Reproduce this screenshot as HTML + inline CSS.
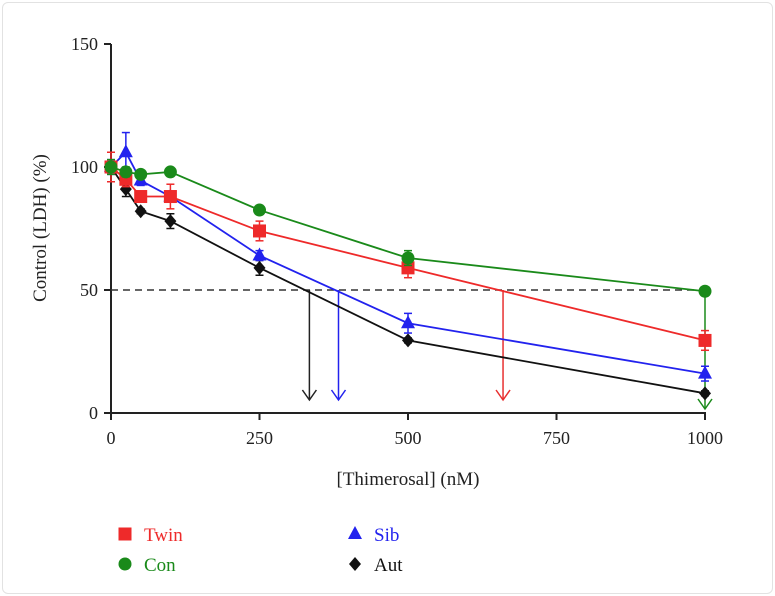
<!DOCTYPE html>
<html><head><meta charset="utf-8"><style>
html,body{margin:0;padding:0;background:#fff;}
#card{position:absolute;left:2px;top:2px;width:769px;height:590px;border:1px solid #e2e2e2;border-radius:6px;background:#fff;}
svg text{font-family:"Liberation Serif",serif;}
</style></head><body>
<div id="card"></div>
<svg id="chart" width="775" height="596" style="position:absolute;left:0;top:0"></svg>
<script>
const doses=[0,25,50,100,250,500,1000];
const twin=[100,95,88,88,74,59,29.5];
const twinErr=[6,3,2,5,4,4,4];
const con=[100,98,97,98,82.5,63,49.5];
const conErr=[3,2,1,1,1,3,1];
const sib=[100,106,94.5,88,64,36.5,16];
const sibErr=[3,8,2,2,2,4,3];
const aut=[100,91,82,78,59,29.5,8];
const autErr=[2,3,1,3,3,1,1];
const xTicks=[0,250,500,750,1000];
const yTicks=[0,50,100,150];
const ic50=[334,383,660,1000];
const ic50Colors=['#222','#2222ee','#e83030','#1a8a1a'];
const X=v=>111+v*0.594, Y=v=>413-v*2.46;
const svg=document.getElementById('chart');const NS='http://www.w3.org/2000/svg';
function mk(t,a,p){const e=document.createElementNS(NS,t);for(const k in a)e.setAttribute(k,a[k]);(p||svg).appendChild(e);return e;}
// axes
let ax=mk('line',{x1:111,y1:Y(150),x2:111,y2:Y(0)+2,stroke:'#222','stroke-width':2});

let bx=mk('line',{x1:108,y1:413,x2:X(1000)+1,y2:413,stroke:'#222','stroke-width':2});

yTicks.forEach(v=>{mk('line',{x1:104,y1:Y(v),x2:111,y2:Y(v),stroke:'#222','stroke-width':2});
 const t=mk('text',{x:98,y:Y(v)+6,'text-anchor':'end','font-size':18,fill:'#222'});t.textContent=v;
 });
xTicks.forEach(v=>{mk('line',{x1:X(v),y1:413,x2:X(v),y2:420,stroke:'#222','stroke-width':2});
 const t=mk('text',{x:X(v),y:444,'text-anchor':'middle','font-size':18,fill:'#222'});t.textContent=v;
 });
let yt=mk('text',{x:46,y:228,'text-anchor':'middle','font-size':19,fill:'#222',transform:'rotate(-90 46 228)'});yt.textContent='Control (LDH) (%)';

let xt=mk('text',{x:408,y:485,'text-anchor':'middle','font-size':19,fill:'#222'});xt.textContent='[Thimerosal] (nM)';

// dashed 50%
let d=mk('line',{x1:111,y1:Y(50),x2:X(1000),y2:Y(50),stroke:'#333','stroke-width':1.5,'stroke-dasharray':'7,5'});

// arrows
ic50.forEach((v,i)=>{const g=mk('g',{stroke:ic50Colors[i],'stroke-width':1.5,fill:'none'});
 
 const y2=i==3?409:400;
 mk('line',{x1:X(v),y1:Y(50),x2:X(v),y2:y2},g);
 mk('polyline',{points:`${X(v)-7},${y2-10} ${X(v)},${y2} ${X(v)+7},${y2-10}`},g);});
const series=[
 {name:'aut',vals:aut,err:autErr,c:'#111',shape:'diamond'},
 {name:'sib',vals:sib,err:sibErr,c:'#2222ee',shape:'tri'},
 {name:'twin',vals:twin,err:twinErr,c:'#ee2a2a',shape:'square'},
 {name:'con',vals:con,err:conErr,c:'#1a8a1a',shape:'circle'}];
function marker(shape,x,y,c,g){
 if(shape==='square')return mk('rect',{x:x-6.5,y:y-6.5,width:13,height:13,fill:c},g);
 if(shape==='circle')return mk('circle',{cx:x,cy:y,r:6.5,fill:c},g);
 if(shape==='tri')return mk('polygon',{points:`${x},${y-8} ${x+7},${y+5} ${x-7},${y+5}`,fill:c},g);
 return mk('polygon',{points:`${x},${y-7} ${x+6},${y} ${x},${y+7} ${x-6},${y}`,fill:c},g);}
series.forEach(s=>{const g=mk('g',{});
 
 mk('polyline',{points:doses.map((d,i)=>X(d)+','+Y(s.vals[i])).join(' '),fill:'none',stroke:s.c,'stroke-width':1.8},g);
 doses.forEach((d,i)=>{const x=X(d),y1=Y(s.vals[i]+s.err[i]),y2=Y(s.vals[i]-s.err[i]);
  mk('line',{x1:x,y1:y1,x2:x,y2:y2,stroke:s.c,'stroke-width':1.5},g);
  mk('line',{x1:x-4,y1:y1,x2:x+4,y2:y1,stroke:s.c,'stroke-width':1.5},g);
  mk('line',{x1:x-4,y1:y2,x2:x+4,y2:y2,stroke:s.c,'stroke-width':1.5},g);
  const m=marker(s.shape,x,Y(s.vals[i]),s.c,g);
  });});
// legend
const leg=[['Twin','square','#ee2a2a',125,534],['Con','circle','#1a8a1a',125,564],['Sib','tri','#2222ee',355,534],['Aut','diamond','#111',355,564]];
leg.forEach(l=>{const g=mk('g',{});
 marker(l[1],l[3],l[4],l[2],g);
 const t=mk('text',{x:l[3]+19,y:l[4]+7,'font-size':19,fill:l[0]==='Aut'?'#111':l[2]},g);t.textContent=l[0];});
</script>
</body></html>
